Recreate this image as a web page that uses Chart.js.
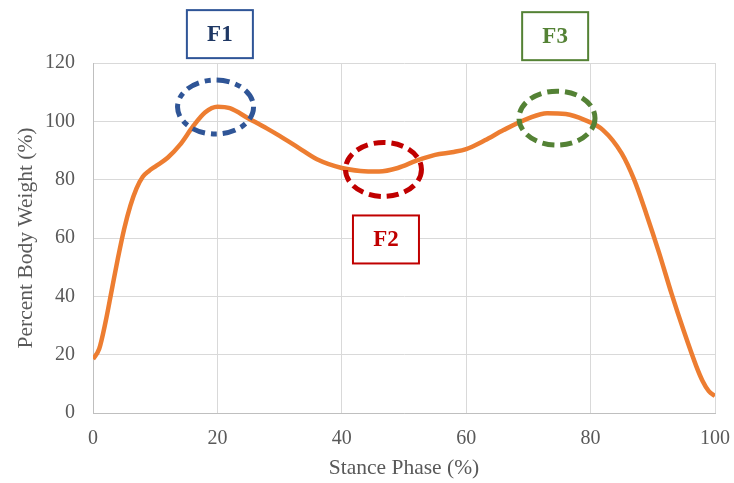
<!DOCTYPE html>
<html>
<head>
<meta charset="utf-8">
<script src="https://cdn.jsdelivr.net/npm/chart.js@4/dist/chart.umd.min.js"></script>
<style>
  html,body{margin:0;padding:0;background:#fff;}
  #wrap{width:734px;height:483px;position:relative;}
</style>
</head>
<body>
<div id="wrap"><canvas id="c" width="734" height="483"></canvas></div>
<script>
// ---- data ----
const stancePhase = [0,1,2,3,4,5,6,7,8,9,10,12,14,16,18,20,22,25,28,30,33,36,40,43,46,49,52,55,58,60,63,66,70,73,76,79,82,85,87,89,91,93,95,97,98,99,100];
const bodyWeight  = [18.5,22,31,42,53,63,71,77,81,83,84.5,87.5,92,98,103,105,104.5,101,97.5,95,91,87,84,83,82.8,84,86.5,88.5,89.5,90.5,93.5,97,101,102.8,102.5,100.5,97,89,80,68,55,41,28,16,11,7.5,5.8];
const xTicks = [0,20,40,60,80,100];
const yTicks = [0,20,40,60,80,100,120];
const peakLabels = ['F1','F2','F3'];

// annotation placement (data coordinates)
const annotations = [
  {label: peakLabels[0], color:'#2F5597', text:'#1F3864', ex:19.7, ey:104.9, bx:20.4, by:129.9, dash:[13,6,6,6]},
  {label: peakLabels[1], color:'#C00000', text:'#C00000', ex:46.7, ey:83.5, bx:47.1, by:59.5, dash:[12,6]},
  {label: peakLabels[2], color:'#548235', text:'#548235', ex:74.6, ey:101.1, bx:74.3, by:129.2, dash:[12,6]}
];

const annoPlugin = {
  id:'anno',
  afterDatasetsDraw(chart){
    const ctx = chart.ctx, xs = chart.scales.x, ys = chart.scales.y;
    ctx.save();
    annotations.forEach(a=>{
      const ex = xs.getPixelForValue(a.ex), ey = ys.getPixelForValue(a.ey);
      ctx.beginPath();
      ctx.setLineDash(a.dash);
      ctx.lineWidth = 5;
      ctx.strokeStyle = a.color;
      ctx.ellipse(ex, ey, 38, 27, 0, 0, Math.PI*2);
      ctx.stroke();
      ctx.setLineDash([]);
      const bx = xs.getPixelForValue(a.bx), by = ys.getPixelForValue(a.by);
      const w = 66, h = 48;
      ctx.fillStyle = '#fff';
      ctx.fillRect(bx-w/2, by-h/2, w, h);
      ctx.lineWidth = 2;
      ctx.strokeStyle = a.color;
      ctx.strokeRect(bx-w/2, by-h/2, w, h);
      ctx.fillStyle = a.text;
      ctx.font = 'bold 23px "Liberation Serif", serif';
      ctx.textAlign = 'center';
      ctx.textBaseline = 'middle';
      ctx.fillText(a.label, bx, by+1);
    });
    ctx.restore();
  }
};

const font = {family:'"Liberation Serif", "Times New Roman", serif', size:20};
const titleFont = {family:'"Liberation Serif", "Times New Roman", serif', size:21.5};
const grey = '#595959';

new Chart(document.getElementById('c'), {
  type:'line',
  data:{
    datasets:[{
      data: stancePhase.map((x,i)=>({x, y: bodyWeight[i]})),
      borderColor:'#ED7D31',
      borderWidth:4.5,
      pointRadius:0,
      tension:0.4,
      cubicInterpolationMode:'monotone',
      fill:false
    }]
  },
  options:{
    responsive:false,
    animation:false,
    layout:{padding:{top:63,right:19,bottom:0,left:0}},
    plugins:{legend:{display:false}, tooltip:{enabled:false}},
    scales:{
      x:{
        type:'linear', min:0, max:100,
        afterBuildTicks(s){ s.ticks = xTicks.map(v=>({value:v})); },
        afterFit(s){ s.height = 70; s.paddingLeft = 0; s.paddingRight = 0; },
        grid:{color:'#D9D9D9', lineWidth:1, drawTicks:false},
        border:{color:'#BFBFBF', width:1},
        ticks:{color:grey, font, padding:14, maxRotation:0},
        title:{display:true, text:'Stance Phase (%)', color:grey, font:titleFont, padding:{top:2,bottom:2}}
      },
      y:{
        min:0, max:120,
        afterBuildTicks(s){ s.ticks = yTicks.map(v=>({value:v})); },
        afterFit(s){ s.width = 93; s.paddingTop = 0; s.paddingBottom = 0; },
        grid:{color:'#D9D9D9', lineWidth:1, drawTicks:false},
        border:{color:'#BFBFBF', width:1},
        ticks:{color:grey, font, padding:18},
        title:{display:true, text:'Percent Body Weight (%)', color:grey, font:titleFont, padding:{top:13,bottom:2}}
      }
    }
  },
  plugins:[annoPlugin]
});
</script>
</body>
</html>
